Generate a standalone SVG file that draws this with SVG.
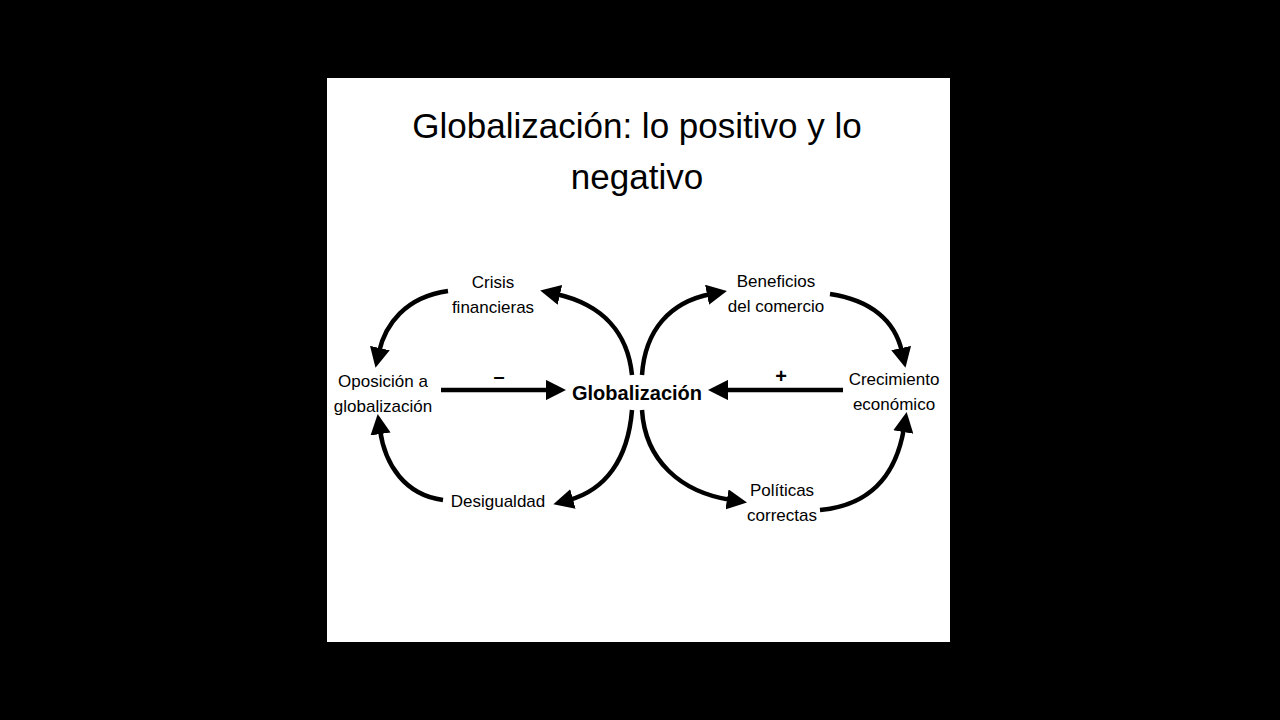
<svg xmlns="http://www.w3.org/2000/svg" width="1280" height="720" viewBox="0 0 1280 720">
<defs>
<marker id="ah" viewBox="0 0 10 10" refX="2" refY="5" markerWidth="4.5" markerHeight="4.5" orient="auto" markerUnits="strokeWidth"><path d="M0,0 L10,5 L0,10 z" fill="#000"/></marker>
<style>
.t{font-family:"Liberation Sans",Arial,sans-serif;font-size:17px;fill:#000;text-anchor:middle}
.c{fill:none;stroke:#000;stroke-width:4.5;marker-end:url(#ah)}
</style>
</defs>
<rect width="1280" height="720" fill="#000"/>
<rect x="327" y="78" width="623" height="564" fill="#fff"/>
<text class="t" style="font-size:35px" x="637" y="138">Globalización: lo positivo y lo</text>
<text class="t" style="font-size:35px" x="637" y="189">negativo</text>
<g id="connectors">
<path class="c" d="M448,291 C405,297 385,325 379,352"/>
<path class="c" d="M632,375 C628,335 605,305 556,294"/>
<path class="c" d="M443,500 C405,495 385,465 380,430"/>
<path class="c" d="M632,410 C628,460 605,490 569,500"/>
<path class="c" d="M441,390 L550,390"/>
<path class="c" d="M843,390 L724,390"/>
<path class="c" d="M642,375 C645,330 670,302 711,294"/>
<path class="c" d="M830,294 C870,300 895,320 902,352"/>
<path class="c" d="M642,410 C645,460 680,492 731,500"/>
<path class="c" d="M820,510 C875,505 897,470 904,428"/>
</g>
<text class="t" x="499" y="383" style="font-size:20px;font-weight:bold">–</text>
<text class="t" x="781" y="383" style="font-size:20px;font-weight:bold">+</text>
<g id="globalizacion"><text class="t" x="637" y="400" style="font-size:20px;font-weight:bold">Globalización</text></g>
<g id="crisis"><text class="t" x="493" y="288">Crisis</text><text class="t" x="493" y="313">financieras</text></g>
<g id="oposicion"><text class="t" x="383" y="387">Oposición a</text><text class="t" x="383" y="412">globalización</text></g>
<g id="desigualdad"><text class="t" x="498" y="507">Desigualdad</text></g>
<g id="beneficios"><text class="t" x="776" y="287">Beneficios</text><text class="t" x="776" y="312">del comercio</text></g>
<g id="crecimiento"><text class="t" x="894" y="385">Crecimiento</text><text class="t" x="894" y="410">económico</text></g>
<g id="politicas"><text class="t" x="782" y="496">Políticas</text><text class="t" x="782" y="521">correctas</text></g>
</svg>
